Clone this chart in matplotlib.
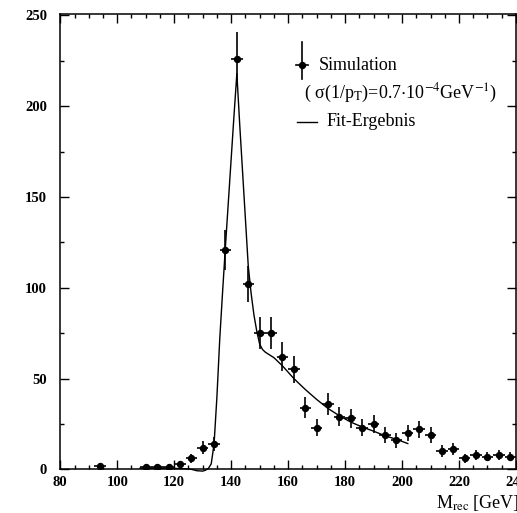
import matplotlib
matplotlib.use("Agg")
import matplotlib.pyplot as plt
from matplotlib.ticker import MultipleLocator

plt.rcParams['font.family'] = ['Liberation Serif', 'DejaVu Serif']
plt.rcParams['mathtext.fontset'] = 'stix'

# simulated spectrum (bin centres in GeV, entries per bin, errors)
mass_bins = [94, 110, 114, 118, 122, 126, 130, 134, 138, 142, 146, 150, 154,
             158, 162, 166, 170, 174, 178, 182, 186, 190, 194, 198, 202, 206,
             210, 214, 218, 222, 226, 230, 234, 238]
counts = [2, 1, 1, 1, 3, 6, 12, 14, 121, 226, 102, 75, 75, 62, 55, 34, 23, 36,
          29, 28, 23, 25, 19, 16, 20, 22, 19, 10, 11, 6, 8, 7, 8, 7]
count_err = [1.4, 1, 1, 1, 1.7, 2.4, 3.5, 3.7, 11, 15, 10, 8.7, 8.7, 7.9, 7.4,
             5.8, 4.8, 6, 5.4, 5.3, 4.8, 5, 4.4, 4, 4.5, 4.7, 4.4, 3.2, 3.3,
             2.4, 2.8, 2.6, 2.8, 2.6]
bin_halfwidth = 2

# fit result
fit_mass = [108, 112, 116, 120, 124, 126, 128, 130, 131, 132, 133, 134, 135,
            136, 137, 138, 139, 140, 141, 142, 143, 144, 145, 146, 147, 148,
            149, 150, 151, 152, 155, 158, 162, 166, 170, 174, 178, 182, 186,
            190, 194, 198, 202]
fit_vals = [0.6, 0.6, 0.6, 0.5, 0.3, 0.0, -0.8, -1.0, -0.5, 0.5, 3, 14, 40,
            72, 98, 123, 147, 171, 195, 218, 190, 164, 138, 112, 97, 85, 76,
            69, 66, 64.5, 61.5, 57, 50, 44, 38.5, 33.5, 29.5, 26, 23.3, 21,
            18.5, 16.5, 14.2]

fig = plt.figure(figsize=(5.17, 5.13), dpi=100)
ax = fig.add_axes([0.1166, 0.0852, 0.8814, 0.8875])

ax.errorbar(mass_bins, counts, yerr=count_err, xerr=bin_halfwidth, fmt='o',
            color='black', ms=4.3, elinewidth=1.2, capsize=0, zorder=3)
ax.plot(fit_mass, fit_vals, color='black', lw=1.0, clip_on=False)

ax.set_xlim(80, 240)
ax.set_ylim(0, 250.8)
ax.xaxis.set_major_locator(MultipleLocator(20))
ax.xaxis.set_minor_locator(MultipleLocator(5))
ax.yaxis.set_major_locator(MultipleLocator(50))
ax.yaxis.set_minor_locator(MultipleLocator(25))
ax.tick_params(which='both', direction='in', top=True, right=True,
               labelsize=10.5, width=1.0)
ax.tick_params(which='major', length=6.3)
ax.tick_params(which='minor', length=3.1)
ax.tick_params(axis='y', pad=9.5)
ax.tick_params(axis='x', pad=5)
for lab in ax.get_xticklabels() + ax.get_yticklabels():
    lab.set_fontweight('bold')
for sp in ax.spines.values():
    sp.set_linewidth(1.1)

# legend drawn by hand like the original
fs = 13
fig_w, fig_h = 517, 513
def fx(px):
    return px / fig_w
def fy(py):
    return 1 - py / fig_h

fig.lines.append(plt.Line2D([fx(301.7), fx(301.7)], [fy(42), fy(79)],
                            color='black', lw=1.2, transform=fig.transFigure))
fig.lines.append(plt.Line2D([fx(296), fx(307.5)], [fy(65), fy(65)],
                            color='black', lw=1.2, transform=fig.transFigure))
fig.lines.append(plt.Line2D([fx(301.7)], [fy(65)], marker='o', ms=4.3,
                            color='black', transform=fig.transFigure))
fig.text(fx(319), fy(65), 'Simulation', fontsize=fs, va='center', ha='left')
fig.text(fx(304), fy(93),
         '( σ(1/p$_{\\mathrm{T}}$)=0.7$\\cdot$10$^{-4}$GeV$^{-1}$)',
         fontsize=fs, va='center', ha='left')
fig.lines.append(plt.Line2D([fx(297), fx(317)], [fy(122), fy(122)],
                            color='black', lw=1.0, transform=fig.transFigure))
fig.text(fx(327), fy(122), 'Fit-Ergebnis', fontsize=fs, va='center', ha='left')

# axis title runs off the right edge, as in the original
fig.text(fx(436), fy(503), r'M$_{\mathrm{rec}}$ [GeV]', fontsize=13,
         va='center', ha='left')

fig.savefig('out.png', dpi=100)
